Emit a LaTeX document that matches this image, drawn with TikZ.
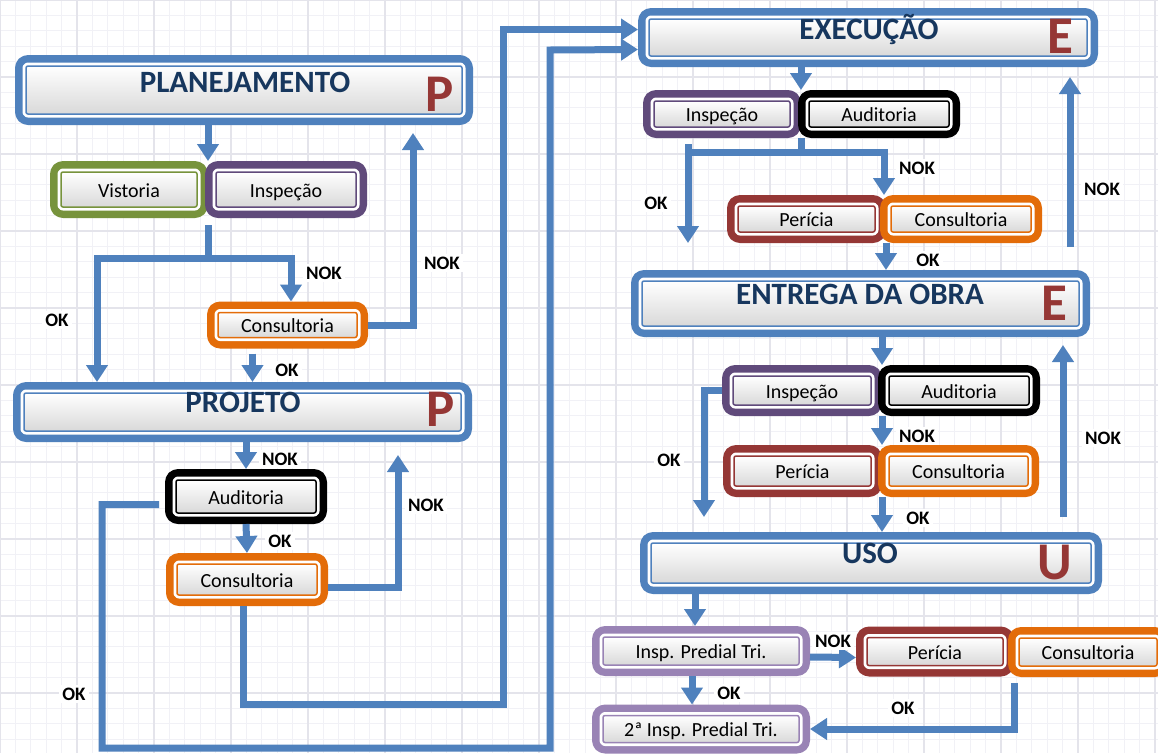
\documentclass[tikz,border=0pt]{standalone}
\usepackage{fontspec}
\setmainfont{Carlito}
\usetikzlibrary{arrows.meta, calc}

\definecolor{flowblue}{HTML}{4F81BD}
\definecolor{titleblue}{HTML}{17375E}
\definecolor{letterred}{HTML}{953735}
\definecolor{vgreen}{HTML}{77933C}
\definecolor{ipurple}{HTML}{604A7B}
\definecolor{corange}{HTML}{E36C09}
\definecolor{pred}{HTML}{953735}
\definecolor{lpurple}{HTML}{9983B5}
\definecolor{gridminor}{HTML}{F1F1F6}
\definecolor{gridmajor}{HTML}{E4E4EB}

\tikzset{
  bx/.style={rectangle, rounded corners=2pt, line join=round,
    preaction={draw=#1, line width=22pt},
    preaction={draw=white, line width=7pt},
    draw=#1, line width=1.5pt, top color=white, bottom color=black!15,
    outer sep=11pt, inner sep=0pt, text=black,
    text height=15pt, text depth=0pt,
    font=\fontsize{20pt}{22pt}\selectfont},
  phase/.style={bx=flowblue},
  ttl/.style={anchor=base, text=titleblue, font=\bfseries\fontsize{31pt}{34pt}\selectfont},
  ltr/.style={anchor=base, text=letterred, font=\bfseries\fontsize{53pt}{56pt}\selectfont},
  res/.style={fill=white, inner sep=3pt, font=\bfseries\fontsize{19pt}{21pt}\selectfont},
  flow/.style={draw=flowblue, line width=7pt, -{Triangle[width=21pt,length=17pt]}},
  flowline/.style={draw=flowblue, line width=7pt}
}

\begin{document}
\begin{tikzpicture}[x=1pt, y=-1pt]
\useasboundingbox (0,0) rectangle (1158,753);
\fill[white] (0,0) rectangle (1158,753);
\draw[gridminor, line width=0.8pt, step=15.4pt] (0,0) grid (1158,753);
\draw[gridmajor, line width=1.5pt, step=77pt] (0,0) grid (1158,753);

\begin{scope}
    % planejamento
    \node (plan) at (244, 90) [phase, minimum width=436pt, minimum height=48pt] {};
    \node (plantitle) at (245, 92) [ttl] {PLANEJAMENTO};
    \node (planletter) at (440, 111) [ltr] {P};
    \node (vist) at (129, 189.5) [bx=vgreen, minimum width=136pt, minimum height=35pt] {Vistoria};
    \node (insp1) at (286, 189.5) [bx=ipurple, minimum width=140pt, minimum height=35pt] {Inspeção};
    \node (cons1) at (287.5, 325) [bx=corange, minimum width=139pt, minimum height=25pt] {Consultoria};

    % projeto
    \node (proj) at (242.5, 412) [phase, minimum width=437pt, minimum height=38pt] {};
    \node (projtitle) at (243, 412) [ttl] {PROJETO};
    \node (projletter) at (441, 426) [ltr] {P};
    \node (aud1) at (246, 496.5) [bx=black, minimum width=140pt, minimum height=33pt] {Auditoria};
    \node (cons2) at (247, 579.5) [bx=corange, minimum width=140pt, minimum height=31pt] {Consultoria};

    % execucao
    \node (exec) at (868, 37.5) [phase, minimum width=438pt, minimum height=37pt] {};
    \node (exectitle) at (869, 39) [ttl] {EXECUÇÃO};
    \node (execletter) at (1060, 53) [ltr] {E};
    \node (insp2) at (722, 114) [bx=ipurple, minimum width=136pt, minimum height=26pt] {Inspeção};
    \node (aud2) at (879, 114) [bx=black, minimum width=140pt, minimum height=26pt] {Auditoria};
    \node (per2) at (806.5, 219) [bx=pred, minimum width=137pt, minimum height=26pt] {Perícia};
    \node (cons3) at (961, 219) [bx=corange, minimum width=140pt, minimum height=26pt] {Consultoria};

    % entrega da obra
    \node (entrega) at (860.5, 303.5) [phase, minimum width=437pt, minimum height=45pt] {};
    \node (entregatitle) at (860, 304) [ttl] {ENTREGA DA OBRA};
    \node (entregaletter) at (1054, 320) [ltr] {E};
    \node (insp3) at (802, 390.5) [bx=ipurple, minimum width=138pt, minimum height=29pt] {Inspeção};
    \node (aud3) at (959, 390.5) [bx=black, minimum width=140pt, minimum height=29pt] {Auditoria};
    \node (per3) at (802.5, 471) [bx=pred, minimum width=137pt, minimum height=30pt] {Perícia};
    \node (cons4) at (958.5, 471) [bx=corange, minimum width=139pt, minimum height=30pt] {Consultoria};

    % uso
    \node (uso) at (871, 563) [phase, minimum width=440pt, minimum height=40pt] {};
    \node (usotitle) at (870, 563) [ttl] {USO};
    \node (usoletter) at (1055, 579) [ltr] {U};
    \node (ipt) at (701, 651) [bx=lpurple, minimum width=196pt, minimum height=28pt] {Insp. Predial Tri.};
    \node (per4) at (935, 651.5) [bx=pred, minimum width=136pt, minimum height=28pt] {Perícia};
    \node (cons5) at (1088, 652) [bx=corange, minimum width=138pt, minimum height=28pt] {Consultoria};
    \node (ipt2) at (701, 729) [bx=lpurple, minimum width=196pt, minimum height=27pt] {2ª Insp. Predial Tri.};
\end{scope}

\coordinate (jpl) at (97, 258);
\coordinate (jpr) at (291, 258);
\coordinate (nokp) at (413, 133);
\coordinate (nokj) at (398, 455);
\coordinate (cj1) at (503, 704);
\coordinate (cj2) at (102, 748);
\coordinate (cj3) at (550, 50);
\coordinate (jel) at (688, 152);
\coordinate (jer) at (884, 152);
\coordinate (noke1) at (1070, 247);
\coordinate (okent) at (704, 517);
\coordinate (noke2) at (1063, 517);

\begin{scope}[every node/.style={res}]
    % planejamento
    \draw[flow] (vist.east |- plan.south) -- (vist.north east);
    \draw[flowline] ([yshift=-7pt]vist.south east) -- (vist.south east |- jpl);
    \draw[flowline, line cap=rect] (jpl) -- (jpr);
    \draw[flow] (jpl) -- (jpl |- proj.north);
    \draw[flow] (jpr) -- (jpr |- cons1.north);
    \draw[flow] (cons1.east) -| (nokp);
    \draw[flow] ($(cons1.south)+(-35,5)$) -- ($(cons1.south |- proj.north)+(-35,0)$);
    \node (nok1) at (324, 273) {NOK};
    \node (ok1) at (57, 320) {OK};
    \node (nok2) at (442, 263) {NOK};
    \node (ok2) at (287, 370) {OK};

    % projeto
    \draw[flow] (proj.south -| aud1.north) -- (aud1.north);
    \draw[flow] (aud1.south) -- (cons2.north);
    \draw[flow] ([yshift=-8pt]cons2.east) -| (nokj);
    \draw[flow] ([xshift=-4pt]cons2.south) |- (cj1) |- ([yshift=8pt]exec.west);
    \draw[flow] ([xshift=-6pt,yshift=-8pt]aud1.west) -| (cj2) -| (cj3) -- ([yshift=-12pt]exec.west);
    \node (nok3) at (280, 459) {NOK};
    \node (ok3) at (280, 541) {OK};
    \node (nok4) at (426, 505) {NOK};
    \node (ok4) at (74, 694) {OK};

    % execucao
    \draw[flow] (exec.south -| insp2.east) -- (insp2.north east);
    \draw[flowline] (insp2.south east) -- (insp2.south east |- jel);
    \draw[flowline, line cap=rect] (jel) -- (jer);
    \draw[flow] ([yshift=8pt]jel) -- (jel |- per2.south);
    \draw[flow] (jer) -- (jer |- per2.north);
    \draw[flow] (per2.south east) -- (per2.south east |- entrega.north);
    \draw[flow] (noke1) -- ($(noke1 |- exec.south)+(0,10)$);
    \node (nok5) at (917, 168) {NOK};
    \node (ok5) at (656, 203) {OK};
    \node (ok6) at (928, 260) {OK};
    \node (nok6) at (1102, 189) {NOK};

    % entrega da obra
    \draw[flow] (entrega.south -| insp3.east) -- (insp3.north east);
    \draw[flow] (insp3.west) -| (okent);
    \draw[flow] (insp3.south east) -- (per3.north east);
    \draw[flow] (per3.south east) -- (per3.south east |- uso.north);
    \draw[flow] (noke2) -- ($(noke2 |- entrega.south)+(0,8)$);
    \node (nok7) at (917, 436) {NOK};
    \node (ok7) at (669, 460) {OK};
    \node (nok8) at (1103, 438) {NOK};
    \node (ok8) at (918, 518) {OK};

    % uso
    \draw[flow] ($(uso.south -| ipt.north)+(-6,0)$) -- ($(ipt.north)+(-6,0)$);
    \draw[flow] ([yshift=-6pt]ipt.east) -- ([yshift=-6pt]per4.west);
    \draw[flow] ([xshift=-9pt]ipt.south) -- ([xshift=-9pt]ipt2.north);
    \draw[flow] ([yshift=-6pt]per4.south east) |- (ipt2.east);
    \node (nok9) at (833, 641) {NOK};
    \node (ok9) at (729, 693) {OK};
    \node (ok10) at (903, 708) {OK};
\end{scope}
\end{tikzpicture}
\end{document}
